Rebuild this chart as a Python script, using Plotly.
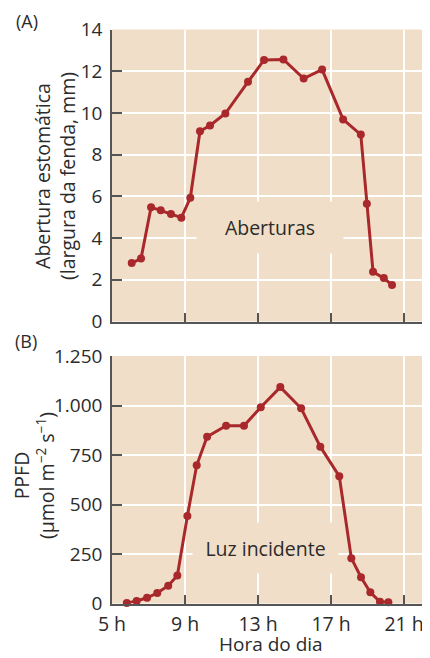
import plotly.graph_objects as go

# (A) stomatal aperture
hora_a = [6.08, 6.59, 7.14, 7.67, 8.23, 8.80, 9.29, 9.82, 10.37, 11.21, 12.45,
          13.33, 14.39, 15.50, 16.51, 17.66, 18.63, 18.96, 19.30, 19.89, 20.34]
abertura = [2.8, 3.02, 5.48, 5.33, 5.16, 4.98, 5.93, 9.12, 9.4, 9.97, 11.49,
            12.54, 12.56, 11.65, 12.08, 9.69, 8.96, 5.65, 2.38, 2.08, 1.75]

# (B) incident light (PPFD)
hora_b = [5.81, 6.35, 6.92, 7.48, 8.08, 8.58, 9.13, 9.64, 10.21, 11.25, 12.23,
          13.15, 14.22, 15.36, 16.41, 17.45, 18.11, 18.64, 19.15, 19.68, 20.14]
ppfd = [2, 13, 29, 53, 90, 141, 442, 698, 842, 898, 898,
        991, 1093, 986, 792, 643, 229, 133, 57, 9, 6]

x_ticks = [5, 9, 13, 17, 21]
x_labels = ["5 h", "9 h", "13 h", "17 h", "21 h"]
y_ticks_a = [0, 2, 4, 6, 8, 10, 12, 14]
y_ticks_b = [0, 250, 500, 750, 1000, 1250]
y_labels_b = ["0", "250", "500", "750", "1.000", "1.250"]

BG = "#F1DEC8"
RED = "#A8282B"
AX = "#555555"
TXT = "#2B2B2B"
FONT = "Open Sans"

# page body has an 8px margin, so the figure is a bit smaller than the window
OFF = 8
W, H = 422, 650
L = 104


def px(x, y):
    # page pixel -> paper coords
    return (x - OFF - L) / (W - L), (H - (y - OFF)) / H


fig = go.Figure()
fig.add_trace(go.Scatter(x=hora_a, y=abertura, mode="lines+markers",
                         line=dict(color=RED, width=3),
                         marker=dict(color=RED, size=8),
                         xaxis="x", yaxis="y", showlegend=False))
fig.add_trace(go.Scatter(x=hora_b, y=ppfd, mode="lines+markers",
                         line=dict(color=RED, width=3),
                         marker=dict(color=RED, size=8),
                         xaxis="x2", yaxis="y2", showlegend=False, cliponaxis=False))

xcommon = dict(range=[5, 22.42], tickvals=x_ticks, showgrid=True, gridcolor="white",
               gridwidth=1.5, showline=True, linecolor=AX, linewidth=1.5,
               ticks="inside", ticklen=9, tickcolor=AX, tickwidth=1.5,
               zeroline=False, domain=[0, 1], automargin=False)
ycommon = dict(showgrid=True, gridcolor="white", gridwidth=1.5, showline=True,
               linecolor=AX, linewidth=1.5, ticks="inside", ticklen=10,
               tickcolor=AX, tickwidth=1.5, zeroline=False, automargin=False,
               tickfont=dict(size=19, color=TXT, family=FONT), ticklabelstandoff=4)

top_dom = [px(0, 321.5)[1], px(0, 29.5)[1]]
bot_dom = [px(0, 603.5)[1], px(0, 356)[1]]

fig.update_layout(
    width=W, height=H,
    margin=dict(l=L, r=0, t=0, b=0, autoexpand=False),
    paper_bgcolor="white", plot_bgcolor=BG,
    font=dict(family=FONT, color=TXT, size=19),
    xaxis=dict(xcommon, anchor="y", showticklabels=False),
    yaxis=dict(ycommon, range=[0, 14], tickvals=y_ticks_a,
               domain=top_dom, anchor="x"),
    xaxis2=dict(xcommon, anchor="y2", ticktext=x_labels, ticklabelstandoff=2,
                tickfont=dict(size=19.5, color=TXT, family=FONT)),
    yaxis2=dict(ycommon, range=[0, 1250], tickvals=y_ticks_b, ticktext=y_labels_b,
                domain=bot_dom, anchor="x2"),
)


def note(text, x, y, **kw):
    xp, yp = px(x, y)
    return dict(text=text, x=xp, y=yp, xref="paper", yref="paper", showarrow=False,
                xanchor="center", yanchor="middle", borderpad=0, **kw)


annots = [
    note("(A)", 27, 21, font=dict(size=18)),
    note("(B)", 26, 341, font=dict(size=18)),
    note("Abertura estomática<br>(largura da fenda, mm)", 55, 176,
         textangle=-90, font=dict(size=19.5)),
    note("PPFD<br>(µmol m<sup>−2</sup> s<sup>−1</sup>)", 34, 476,
         textangle=-90, font=dict(size=19.5)),
    note("Hora do dia", 271, 644, font=dict(size=19)),
    dict(text="Aberturas", x=13.63, y=4.51, xref="x", yref="y", showarrow=False,
         bgcolor=BG, width=144, height=49, font=dict(size=19.5)),
    dict(text="Luz incidente", x=13.39, y=280, xref="x2", yref="y2", showarrow=False,
         bgcolor=BG, width=143, height=48, font=dict(size=19.5)),
]
fig.update_layout(annotations=annots)

fig.write_html("out.html")
